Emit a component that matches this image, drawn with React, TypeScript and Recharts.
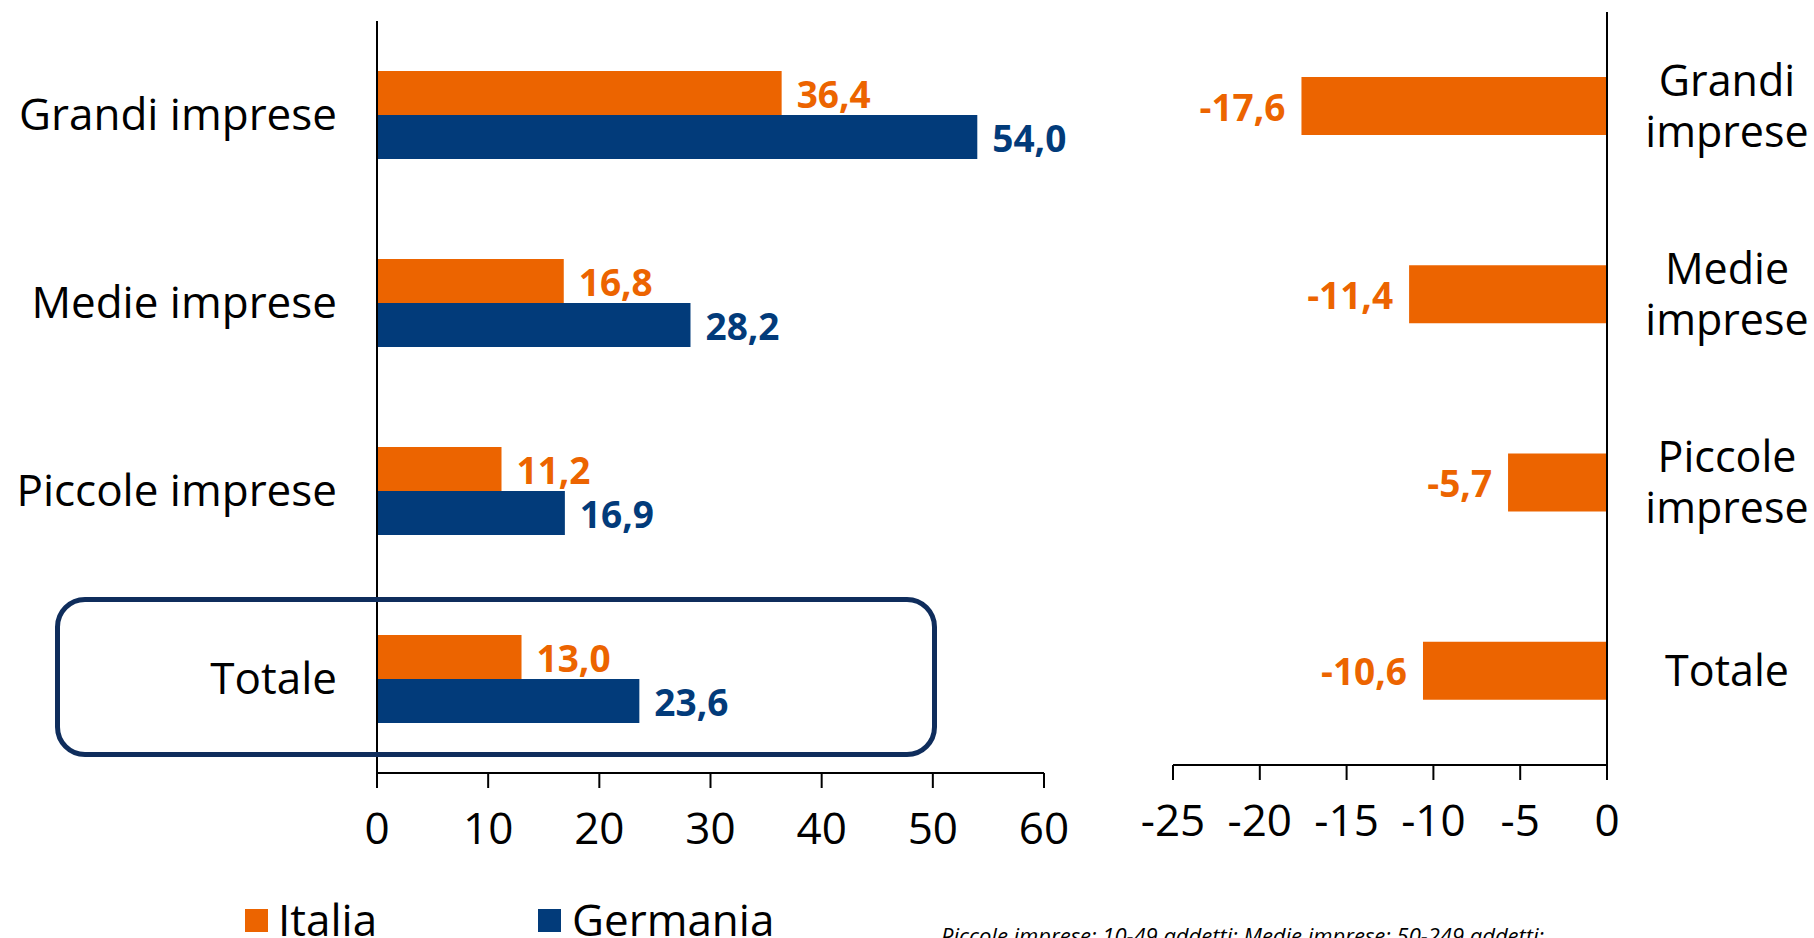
import React from "react";
import { BarChart, Bar, XAxis, YAxis, LabelList } from "recharts";

// imprese con almeno un'innovazione, valori %
const categories = ["Grandi imprese", "Medie imprese", "Piccole imprese", "Totale"];
const italia = [36.4, 16.8, 11.2, 13.0];
const germania = [54.0, 28.2, 16.9, 23.6];
const divario = [-17.6, -11.4, -5.7, -10.6];
const leftTicks = [0, 10, 20, 30, 40, 50, 60];
const rightTicks = [-25, -20, -15, -10, -5, 0];

const ORANGE = "#EC6400";
const BLUE = "#023B7A";
const FONT = "'Open Sans', sans-serif";

const leftData = categories.map((c, i) => ({ name: c, italia: italia[i], germania: germania[i] }));
const rightData = categories.map((c, i) => ({ name: c, gap: divario[i] }));

const fmt = (v: number) => v.toFixed(1).replace(".", ",");

const ValueLabel = (props: any) => {
  const { x, y, width, height, value, color } = props;
  const neg = value < 0;
  const left = Math.min(x, x + width);
  const right = Math.max(x, x + width);
  return (
    <text
      x={neg ? left - 16 : right + 15}
      y={y + height / 2}
      fill={color}
      fontSize={37}
      fontWeight={700}
      fontFamily={FONT}
      textAnchor={neg ? "end" : "start"}
      dominantBaseline="central"
    >
      {fmt(value)}
    </text>
  );
};

const NumTick = (props: any) => {
  const { x, y, payload } = props;
  return (
    <text x={x} y={y + 37} fontSize={44} fontFamily={FONT} fill="#000" textAnchor="middle" dominantBaseline="central">
      {payload.value}
    </text>
  );
};

const LeftCatTick = (props: any) => {
  const { x, y, payload } = props;
  return (
    <text x={x - 40} y={y - 2} fontSize={44} fontFamily={FONT} fill="#000" textAnchor="end" dominantBaseline="central">
      {payload.value}
    </text>
  );
};

const RightCatTick = (props: any) => {
  const { x, y, payload } = props;
  const lines = String(payload.value).split(" ");
  const step = 51;
  const start = y - 2 - ((lines.length - 1) * step) / 2;
  return (
    <text fontSize={43} fontFamily={FONT} fill="#000" textAnchor="middle" dominantBaseline="central">
      {lines.map((l, i) => (
        <tspan key={i} x={x + 120} y={start + i * step}>
          {l}
        </tspan>
      ))}
    </text>
  );
};

export default function App() {
  return (
    <div style={{ position: "fixed", left: 0, top: 0, width: 1814, height: 938, overflow: "hidden", background: "#fff" }}>
      <div style={{ position: "absolute", left: 0, top: 0 }}>
        <BarChart
          width={1100}
          height={860}
          data={leftData}
          layout="vertical"
          margin={{ top: 21, right: 56, left: 0, bottom: 0 }}
          barGap={0}
        >
          <XAxis
            type="number"
            domain={[0, 60]}
            ticks={leftTicks}
            height={87}
            tickSize={15}
            tickMargin={2}
            axisLine={{ stroke: "#000", strokeWidth: 2 }}
            tickLine={{ stroke: "#000", strokeWidth: 2 }}
            tick={<NumTick />}
          />
          <YAxis
            type="category"
            dataKey="name"
            width={377}
            tickSize={0}
            tickMargin={0}
            tickLine={false}
            axisLine={{ stroke: "#000", strokeWidth: 2 }}
            tick={<LeftCatTick />}
          />
          <Bar dataKey="italia" fill={ORANGE} barSize={44} isAnimationActive={false}>
            <LabelList dataKey="italia" content={<ValueLabel color={ORANGE} />} />
          </Bar>
          <Bar dataKey="germania" fill={BLUE} barSize={44} isAnimationActive={false}>
            <LabelList dataKey="germania" content={<ValueLabel color={BLUE} />} />
          </Bar>
        </BarChart>
      </div>

      <div style={{ position: "absolute", left: 1100, top: 0 }}>
        <BarChart
          width={714}
          height={860}
          data={rightData}
          layout="vertical"
          margin={{ top: 12, right: 0, left: 73, bottom: 0 }}
        >
          <XAxis
            type="number"
            domain={[-25, 0]}
            ticks={rightTicks}
            height={95}
            tickSize={15}
            tickMargin={2}
            axisLine={{ stroke: "#000", strokeWidth: 2 }}
            tickLine={{ stroke: "#000", strokeWidth: 2 }}
            tick={<NumTick />}
          />
          <YAxis
            type="category"
            dataKey="name"
            orientation="right"
            width={207}
            tickSize={0}
            tickMargin={0}
            tickLine={false}
            axisLine={{ stroke: "#000", strokeWidth: 2 }}
            tick={<RightCatTick />}
          />
          <Bar dataKey="gap" fill={ORANGE} barSize={58} isAnimationActive={false}>
            <LabelList dataKey="gap" content={<ValueLabel color={ORANGE} />} />
          </Bar>
        </BarChart>
      </div>

      {/* riquadro evidenziato sul Totale */}
      <div
        style={{
          position: "absolute",
          left: 55,
          top: 597,
          width: 882,
          height: 160,
          border: "5px solid #0F2D5C",
          borderRadius: 30,
          boxSizing: "border-box",
        }}
      />

      <svg style={{ position: "absolute", left: 0, top: 0 }} width={1814} height={938}>
        <rect x={245} y={909} width={23} height={23} fill={ORANGE} />
        <text x={278} y={936} fontSize={44} fontFamily={FONT} fill="#000">Italia</text>
        <rect x={538} y={909} width={23} height={23} fill={BLUE} />
        <text x={572} y={936} fontSize={44} fontFamily={FONT} fill="#000">Germania</text>
        <text x={941} y={944} fontSize={22} fontStyle="italic" fontFamily={FONT} fill="#000">
          Piccole imprese: 10-49 addetti; Medie imprese: 50-249 addetti;
        </text>
      </svg>
    </div>
  );
}
